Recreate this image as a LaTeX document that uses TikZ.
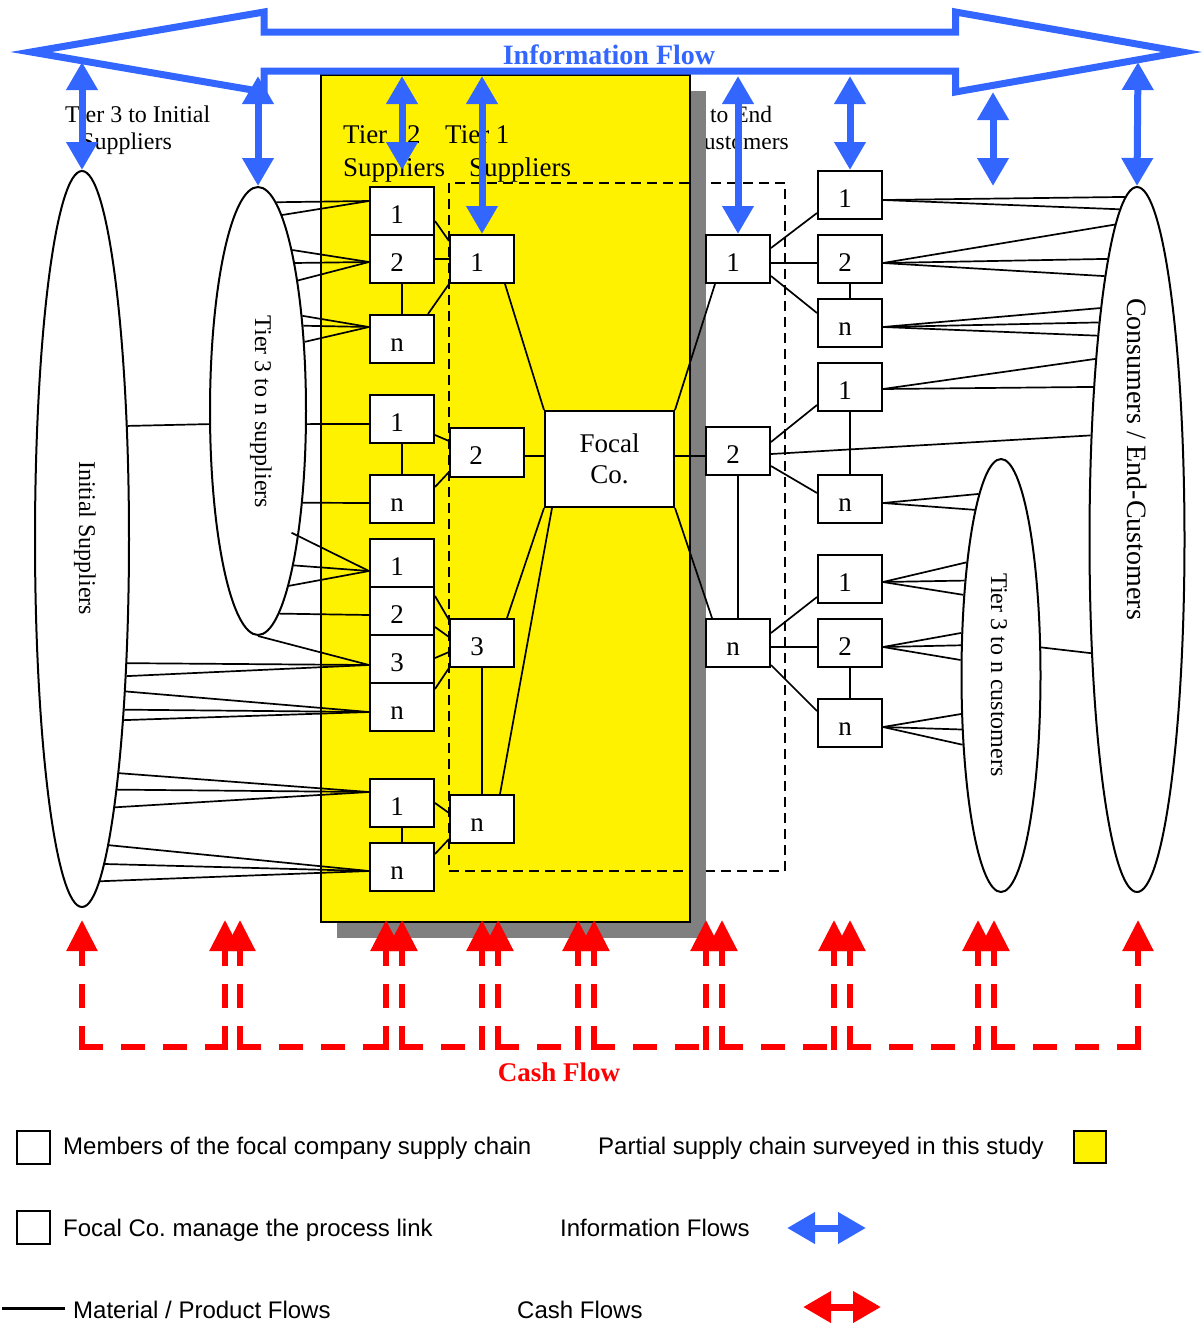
\documentclass[tikz,border=0pt]{standalone}
\usepackage{fontspec}
\setmainfont{Liberation Serif}
\newfontfamily\legfont{Liberation Sans}
\usetikzlibrary{shapes.geometric,arrows.meta,calc}
\definecolor{infoblue}{RGB}{51,102,255}
\definecolor{shadowgray}{RGB}{128,128,128}
\newcommand\boxnum[2][-10pt]{\makebox[0pt]{\kern#1#2}}
\begin{document}
\begin{tikzpicture}[x=1pt,y=-1pt,
  mbox/.style={draw,line width=2pt,fill=white,minimum width=64pt,minimum height=48pt,inner sep=0pt,text height=24pt,text depth=0pt,font=\fontsize{27}{33}\selectfont},
  ell/.style={draw,ellipse,line width=2pt,fill=white,inner sep=0pt},
  elltext/.style={rotate=-90,inner sep=0pt,font=\fontsize{24}{28}\selectfont},
  flow/.style={line width=1.7pt},
  lbl/.style={inner sep=0pt,anchor=base west},
  infoarr/.style={draw=infoblue,line width=7pt,{Triangle[width=30pt,length=28pt]}-{Triangle[width=30pt,length=28pt]}},
  cash/.style={draw=red,line width=5.5pt,dash pattern=on 18pt off 24pt,line cap=rect},
  cashtip/.style={-{Triangle[width=30pt,length=31pt]}},
  legtext/.style={inner sep=0pt,anchor=base west,font=\legfont\fontsize{24}{28}\selectfont},
  legbox/.style={draw,line width=2pt,fill=white,minimum width=33pt,minimum height=33pt,inner sep=0pt}
]
\useasboundingbox (0,0) rectangle (1204,1323);

% label partly hidden behind the shadow
\node[lbl,font=\fontsize{23.5}{28}\selectfont] (te1) at (710,122) {to End};
\node[lbl,font=\fontsize{23.5}{28}\selectfont] (te2) at (688,149) {Customers};

% surveyed area with shadow and dashed frame
\fill[shadowgray] (337,91) rectangle (706,938);
\draw[line width=2pt,fill=yellow] (321,75) rectangle (690,922);
\draw[line width=1.7pt,dash pattern=on 10pt off 6pt] (449,183) rectangle (785,871);
\fill[shadowgray] (691,91) rectangle (706,938);

% labels
\node[lbl,font=\fontsize{24}{28}\selectfont] (l3a) at (65,122) {Tier 3 to Initial};
\node[lbl,font=\fontsize{24}{28}\selectfont] (l3b) at (81,149) {Suppliers};
\node[lbl,font=\fontsize{27}{33}\selectfont] (l2a) at (343,143) {Tier\hspace{20pt}2};
\node[lbl,font=\fontsize{27}{33}\selectfont] (l2b) at (343,176) {Suppliers};
\node[lbl,font=\fontsize{27}{33}\selectfont] (l1a) at (445,143) {Tier 1};
\node[lbl,font=\fontsize{27}{33}\selectfont] (l1b) at (469,176) {Suppliers};

% information flow arrow
\draw[infoblue,line width=7pt,line join=miter] (31,52) -- (264,12) -- (264,32) -- (955.5,32) -- (955.5,12) -- (1182,52) -- (955.5,92) -- (955.5,71) -- (264,71) -- (264,92) -- cycle;
\node[anchor=base,inner sep=0pt,text=infoblue,font=\bfseries\fontsize{28}{33}\selectfont] (ift) at (609,64) {Information Flow};

% ellipses
\node[ell,minimum width=94pt,minimum height=736pt] (isup) at (82,539) {};
\node[ell,minimum width=96pt,minimum height=448pt] (tsup) at (258,411) {};
\node[ell,minimum width=79pt,minimum height=433pt] (tcus) at (1001,675.5) {};
\node[ell,minimum width=95pt,minimum height=705pt] (econ) at (1137,539.5) {};
\node[elltext] (isupt) at (85,538) {Initial Suppliers};
\node[elltext] (tsupt) at (261,412) {Tier 3 to n suppliers};
\node[elltext] (tcust) at (999,675) {Tier 3 to n customers};
\node[elltext,font=\fontsize{28}{32}\selectfont] (econt) at (1137,459) {Consumers / End-Customers};

% boxes
\node[mbox] (t2a) at (402,211) {\boxnum{1}};
\node[mbox] (t2b) at (402,259) {\boxnum{2}};
\node[mbox] (t2c) at (402,339) {\boxnum{n}};
\node[mbox] (t2d) at (402,419) {\boxnum{1}};
\node[mbox] (t2e) at (402,499) {\boxnum{n}};
\node[mbox] (t2f) at (402,563) {\boxnum{1}};
\node[mbox] (t2g) at (402,611) {\boxnum{2}};
\node[mbox] (t2h) at (402,659) {\boxnum{3}};
\node[mbox] (t2i) at (402,707) {\boxnum{n}};
\node[mbox] (t2j) at (402,803) {\boxnum{1}};
\node[mbox] (t2k) at (402,867) {\boxnum{n}};
\node[mbox] (t1a) at (482,259) {\boxnum{1}};
\node[mbox,minimum width=74pt,minimum height=49pt] (t1b) at (487,452) {\boxnum[-22pt]{2}};
\node[mbox] (t1c) at (482,643) {\boxnum{3}};
\node[mbox] (t1d) at (482,819) {\boxnum{n}};
\node[draw,line width=2pt,fill=white,minimum width=129pt,minimum height=96pt,inner sep=0pt,align=center,font=\fontsize{27}{31}\selectfont] (focal) at (609.5,459) {Focal\\Co.};
\node[mbox] (d1a) at (738,259) {\boxnum{1}};
\node[mbox] (d1b) at (738,451) {\boxnum{2}};
\node[mbox] (d1c) at (738,643) {\boxnum{n}};
\node[mbox] (d2a) at (850,195) {\boxnum{1}};
\node[mbox] (d2b) at (850,259) {\boxnum{2}};
\node[mbox] (d2c) at (850,323) {\boxnum{n}};
\node[mbox] (d2d) at (850,387) {\boxnum{1}};
\node[mbox] (d2e) at (850,499) {\boxnum{n}};
\node[mbox] (d2f) at (850,579) {\boxnum{1}};
\node[mbox] (d2g) at (850,643) {\boxnum{2}};
\node[mbox] (d2h) at (850,723) {\boxnum{n}};

% material flows: initial / tier 3 to tier 2
\draw[flow] (isup.68.78) -- (tsup.195.18);
\foreach \ang in {85.82,83.53} \draw[flow] ($(t2a.west)+(0,-10)$) -- (tsup.\ang);
\foreach \ang in {78.58,76.32,73.98} \draw[flow] ($(t2b.west)+(0,3)$) -- (tsup.\ang);
\foreach \ang in {65.96,62.09,56.92} \draw[flow] ($(t2c.west)+(0,-12)$) -- (tsup.\ang);
\draw[flow] ($(t2d.west)+(0,5)$) -- (tsup.-15.18);
\draw[flow] ($(t2e.west)+(0,4)$) -- (tsup.-64.56);
\draw[flow,shorten >=-8pt] ($(t2f.west)+(0,8)$) -- (tsup.-72.90);
\foreach \ang in {-77.55,-80.42} \draw[flow] ($(t2f.west)+(0,8)$) -- (tsup.\ang);
\draw[flow] ($(t2g.west)+(0,4)$) -- (tsup.-84.45);
\draw[flow] ($(t2h.west)+(0,6)$) -- (tsup.south);
\foreach \ang in {-70.36,-72.75} \draw[flow] ($(t2h.west)+(0,6)$) -- (isup.\ang);
\foreach \ang in {-74.85,-76.42,-77.87} \draw[flow] ($(t2i.west)+(0,5)$) -- (isup.\ang);
\foreach \ang in {-81.43,-82.32,-83.09} \draw[flow] ($(t2j.west)+(0,-11)$) -- (isup.\ang);
\foreach \ang in {-85.69,-86.51,-87.49} \draw[flow] ($(t2k.west)+(0,4)$) -- (isup.\ang);

% tier 2 to tier 1
\draw[flow] ($(t2a.east)+(0,10)$) -- ($(t1a.west)+(0,-18)$);
\draw[flow] (t2b.east) -- (t1a.west);
\draw[flow] (t2b.south) -- (t2c.north);
\draw[flow] ($(t2c.north east)+(-7,0)$) -- (t1a.south west);
\draw[flow] ($(t2d.east)+(0,16)$) -- ($(t1b.west)+(0,-11)$);
\draw[flow] (t2d.south) -- (t2e.north);
\draw[flow] ($(t2e.east)+(0,-12)$) -- ($(t1b.west)+(0,20)$);
\draw[flow] ($(t2g.east)+(0,-15)$) -- ($(t1c.west)+(0,-23)$);
\draw[flow] ($(t2g.east)+(0,16)$) -- ($(t1c.west)+(0,-6)$);
\draw[flow] ($(t2h.east)+(0,-1)$) -- ($(t1c.west)+(0,9)$);
\draw[flow] ($(t2i.east)+(0,-18)$) -- (t1c.south west);
\draw[flow] (t2j.east) -- ($(t1d.west)+(0,-6)$);
\draw[flow] (t2j.south) -- (t2k.north);
\draw[flow] ($(t2k.east)+(0,-13)$) -- ($(t1d.west)+(0,20)$);
\draw[flow] (t1c.south) -- (t1d.north);

% tier 1 to focal company
\draw[flow] ($(t1a.south)+(23,0)$) -- (focal.north west);
\draw[flow] ($(t1b.east)+(0,4)$) -- ($(focal.west)+(0,-3)$);
\draw[flow] ($(t1c.north)+(25,0)$) -- (focal.south west);
\draw[flow] ($(t1d.north)+(18,0)$) -- ($(focal.south west)+(8,0)$);

% focal company to customers
\draw[flow] (focal.north east) -- ($(d1a.south)+(-23,0)$);
\draw[flow] ($(focal.east)+(0,-3)$) -- ($(d1b.west)+(0,5)$);
\draw[flow] (focal.south east) -- ($(d1c.north)+(-26,0)$);

\draw[flow] ($(d1a.east)+(0,-11)$) -- ($(d2a.west)+(0,18)$);
\draw[flow] ($(d1a.east)+(0,4)$) -- ($(d2b.west)+(0,4)$);
\draw[flow] ($(d1a.east)+(0,17)$) -- ($(d2c.west)+(0,-10)$);
\draw[flow] (d2b.south) -- (d2c.north);
\draw[flow] ($(d1b.east)+(0,-9)$) -- ($(d2d.west)+(0,18)$);
\draw[flow] ($(d1b.east)+(0,3)$) -- (econ.114.85);
\draw[flow] ($(d1b.east)+(0,15)$) -- ($(d2e.west)+(0,-6)$);
\draw[flow] (d1b.south) -- (d1c.north);
\draw[flow] (d2d.south) -- (d2e.north);
\draw[flow] ($(d1c.east)+(0,-10)$) -- ($(d2f.west)+(0,18)$);
\draw[flow] ($(d1c.east)+(0,4)$) -- ($(d2g.west)+(0,4)$);
\draw[flow] ($(d1c.east)+(0,22)$) -- ($(d2h.west)+(0,-12)$);
\draw[flow] (d2g.south) -- (d2h.north);

\foreach \ang in {92.07,93.27} \draw[flow] ($(d2a.east)+(0,5)$) -- (econ.\ang);
\foreach \ang in {94.32,96.08,97.84} \draw[flow] ($(d2b.east)+(0,4)$) -- (econ.\ang);
\foreach \ang in {99.06,100.11,101.35} \draw[flow] ($(d2c.east)+(0,4)$) -- (econ.\ang);
\foreach \ang in {103.11,106.18} \draw[flow] ($(d2d.east)+(0,2)$) -- (econ.\ang);
\foreach \ang in {97.88,99.89} \draw[flow] ($(d2e.east)+(0,4)$) -- (tcus.\ang);
\foreach \ang in {107.90,111.11,115.12} \draw[flow] ($(d2f.east)+(0,3)$) -- (tcus.\ang);
\foreach \ang in {133.05,143.95,159.80} \draw[flow] ($(d2g.east)+(0,4)$) -- (tcus.\ang);
\foreach \ang in {-136.05,-126.12,-119.89} \draw[flow] ($(d2h.east)+(0,4)$) -- (tcus.\ang);
\draw[flow] (tcus.35.07) -- (econ.-112.61);

% information flow links
\coordinate (ib1) at (82,62);
\coordinate (ib2) at (258,76);
\coordinate (ib3) at (402,76);
\coordinate (ib3e) at (402,170);
\coordinate (ib4) at (482,76);
\coordinate (ib5) at (738,76);
\coordinate (ib6) at (850,76);
\coordinate (ib7) at (993,92);
\coordinate (ib7e) at (993,186);
\coordinate (ib8) at (1138,62);
\draw[infoarr] (ib1) -- (isup.north);
\draw[infoarr] (ib2) -- (tsup.north);
\draw[infoarr] (ib3) -- (ib3e);
\draw[infoarr] (ib4) -- (t1a.north);
\draw[infoarr] (ib5) -- (d1a.north);
\draw[infoarr] (ib6) -- (d2a.north);
\draw[infoarr] (ib7) -- (ib7e);
\draw[infoarr] (ib8) -- (econ.north);

% cash flow
\foreach \xa/\xb [count=\i] in {82/225,240/386,402/482,498/578,594/706,722/834,850/978,994/1138}{
  \coordinate (cl\i) at (\xa,920);
  \coordinate (cr\i) at (\xb,920);
  \coordinate (bl\i) at (\xa,1047);
  \coordinate (br\i) at (\xb,1047);
  \draw[cash,cashtip] (bl\i) -- (cl\i);
  \draw[cash,cashtip] (br\i) -- (cr\i);
  \draw[cash] (bl\i) -- (br\i);
}
\node[anchor=base,inner sep=0pt,text=red,font=\bfseries\fontsize{27}{33}\selectfont] (cft) at (559,1081) {Cash Flow};

% legend
\node[legbox] (lgb1) at (33.5,1147) {};
\node[legtext] (lgt1) at (63,1154) {Members of the focal company supply chain};
\node[legtext] (lgt2) at (598,1154) {Partial supply chain surveyed in this study};
\node[legbox,fill=yellow,minimum width=32pt,minimum height=32pt] (lgy) at (1090,1147) {};
\node[legbox] (lgb2) at (33.5,1227.5) {};
\node[legtext] (lgt3) at (63,1236) {Focal Co.\ manage the process link};
\node[legtext] (lgt4) at (560,1236) {Information Flows};
\coordinate (lia) at (787,1228);
\coordinate (lib) at (866,1228);
\draw[infoarr] (lia) -- (lib);
\coordinate (lma) at (2,1308);
\coordinate (lmb) at (65,1308);
\draw[line width=3pt] (lma) -- (lmb);
\node[legtext] (lgt5) at (73,1318) {Material / Product Flows};
\node[legtext] (lgt6) at (517,1318) {Cash Flows};
\coordinate (lca) at (803,1307);
\coordinate (lcb) at (881,1307);
\draw[red,line width=7pt,{Triangle[width=30pt,length=28pt]}-{Triangle[width=30pt,length=28pt]}] (lca) -- (lcb);
\end{tikzpicture}
\end{document}
